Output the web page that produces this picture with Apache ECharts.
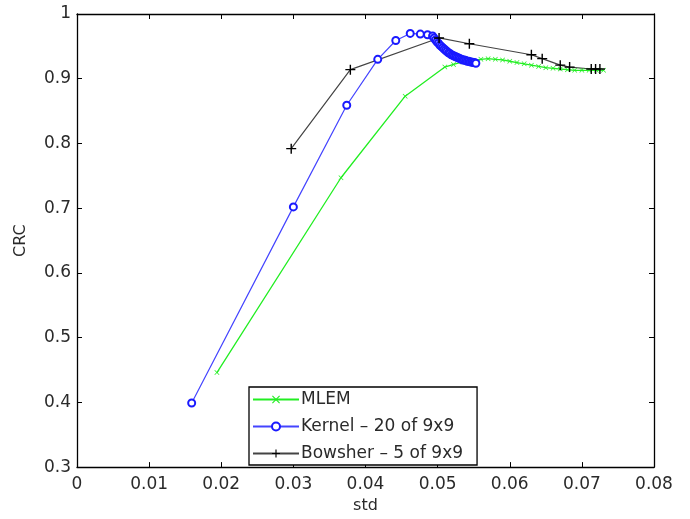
<!DOCTYPE html>
<html><head><meta charset="utf-8">
<script src="https://cdn.jsdelivr.net/npm/echarts@6/dist/echarts.min.js"></script>
<style>html,body{margin:0;padding:0;background:#fff}#c{width:690px;height:519px}</style>
</head><body><div id="c"></div>
<script>
const xTicks = [0, 0.01, 0.02, 0.03, 0.04, 0.05, 0.06, 0.07, 0.08];
const yTicks = [0.3, 0.4, 0.5, 0.6, 0.7, 0.8, 0.9, 1];

const mlemStd = [0.0194, 0.0366, 0.0455, 0.0510, 0.0522, 0.0535, 0.0547, 0.0560, 0.0570, 0.0580, 0.0590, 0.0600, 0.0610, 0.0620, 0.0630, 0.0640, 0.0650, 0.0660, 0.0670, 0.0680, 0.0690, 0.0700, 0.0710, 0.0720, 0.0730];
const mlemCrc = [0.446, 0.747, 0.873, 0.918, 0.922, 0.926, 0.928, 0.930, 0.931, 0.930, 0.929, 0.927, 0.925, 0.923, 0.921, 0.919, 0.917, 0.916, 0.915, 0.914, 0.913, 0.913, 0.913, 0.913, 0.913];

const kernelStd = [0.0159, 0.0300, 0.0374, 0.0417, 0.0442, 0.0462, 0.0476, 0.0486, 0.0493,
  0.0495, 0.0497, 0.0499, 0.0501, 0.0503, 0.0505, 0.0507, 0.0509, 0.0511, 0.0513, 0.0515, 0.0517, 0.0519, 0.0521, 0.0523,
  0.0525, 0.0527, 0.0529, 0.0531, 0.0533, 0.0535, 0.0537, 0.0539, 0.0541, 0.0543, 0.0545, 0.0547, 0.0549, 0.0551, 0.0553];
const kernelCrc = [0.399, 0.702, 0.859, 0.930, 0.959, 0.970, 0.969, 0.968, 0.966,
  0.963, 0.960, 0.957, 0.955, 0.952, 0.950, 0.948, 0.946, 0.944, 0.942, 0.940, 0.939, 0.937, 0.936, 0.935,
  0.934, 0.933, 0.932, 0.931, 0.930, 0.929, 0.929, 0.928, 0.927, 0.927, 0.926, 0.926, 0.925, 0.925, 0.924];

const bowsherStd = [0.0297, 0.0379, 0.0502, 0.0544, 0.0630, 0.0645, 0.0670, 0.0683, 0.0713, 0.0719, 0.0725];
const bowsherCrc = [0.792, 0.914, 0.963, 0.954, 0.937, 0.931, 0.921, 0.918, 0.915, 0.915, 0.915];

const names = ['MLEM', 'Kernel \u2013 20 of 9x9', 'Bowsher \u2013 5 of 9x9'];

function pairs(xs, ys) { return xs.map((x, i) => [x, ys[i]]); }

const font = 'DejaVu Sans, Liberation Sans, sans-serif';
const txt = '#2a2a2a';
const crossPath = 'path://M0,1L1,0L5,4L9,0L10,1L6,5L10,9L9,10L5,6L1,10L0,9L4,5Z';
const plusPath = 'path://M4.3,0H5.7V4.3H10V5.7H5.7V10H4.3V5.7H0V4.3H4.3Z';

const frameAxisLine = { show: true, onZero: false, lineStyle: { color: '#000', width: 1.3 } };
const tickIn = { show: true, inside: true, length: 5, lineStyle: { color: '#000', width: 1 } };

const chart = echarts.init(document.getElementById('c'), null, { renderer: 'canvas' });
chart.setOption({
  animation: false,
  backgroundColor: '#fff',
  grid: { left: 77, right: 36, top: 14, bottom: 39, containLabel: false },
  legend: {
    orient: 'vertical', left: 249, top: 387,
    data: names,
    backgroundColor: '#fff', borderColor: '#000', borderWidth: 1.3,
    padding: [4, 14, 3, 3], itemGap: 10, itemWidth: 46, itemHeight: 10,
    textStyle: { fontFamily: font, fontSize: 17, color: txt, padding: [0, 0, 0, -3] }
  },
  xAxis: [{
    type: 'value', min: 0, max: 0.08, interval: 0.01,
    name: 'std', nameLocation: 'middle', nameGap: 30,
    nameTextStyle: { fontFamily: font, fontSize: 16, color: txt },
    axisLine: frameAxisLine, axisTick: tickIn, splitLine: { show: false },
    axisLabel: { fontFamily: font, fontSize: 17, color: txt, margin: 9, formatter: v => String(+v.toFixed(2)) }
  }, {
    type: 'value', position: 'top', min: 0, max: 0.08, interval: 0.01,
    axisLine: frameAxisLine, axisTick: tickIn, splitLine: { show: false }, axisLabel: { show: false }
  }],
  yAxis: [{
    type: 'value', min: 0.3, max: 1, interval: 0.1,
    name: 'CRC', nameLocation: 'middle', nameGap: 48,
    nameTextStyle: { fontFamily: font, fontSize: 16, color: txt },
    axisLine: frameAxisLine, axisTick: tickIn, splitLine: { show: false },
    axisLabel: { fontFamily: font, fontSize: 17, color: txt, margin: 6, formatter: v => String(+v.toFixed(1)) }
  }, {
    type: 'value', position: 'right', min: 0.3, max: 1, interval: 0.1,
    axisLine: frameAxisLine, axisTick: tickIn, splitLine: { show: false }, axisLabel: { show: false }
  }],
  series: [{
    name: names[0], type: 'line', data: pairs(mlemStd, mlemCrc),
    symbol: crossPath, symbolSize: 5, showAllSymbol: true,
    lineStyle: { color: '#22ee22', width: 1.3 },
    itemStyle: { color: '#22ee22' }
  }, {
    name: names[1], type: 'line', data: pairs(kernelStd, kernelCrc),
    symbol: 'emptyCircle', symbolSize: 7, showAllSymbol: true,
    lineStyle: { color: '#4444ff', width: 1.2 },
    itemStyle: { color: '#1a1aff', borderWidth: 1.6 }
  }, {
    name: names[2], type: 'line', data: pairs(bowsherStd, bowsherCrc),
    symbol: plusPath, symbolSize: 10, showAllSymbol: true,
    lineStyle: { color: '#444', width: 1.2 },
    itemStyle: { color: '#000' }
  }]
});
</script></body></html>
